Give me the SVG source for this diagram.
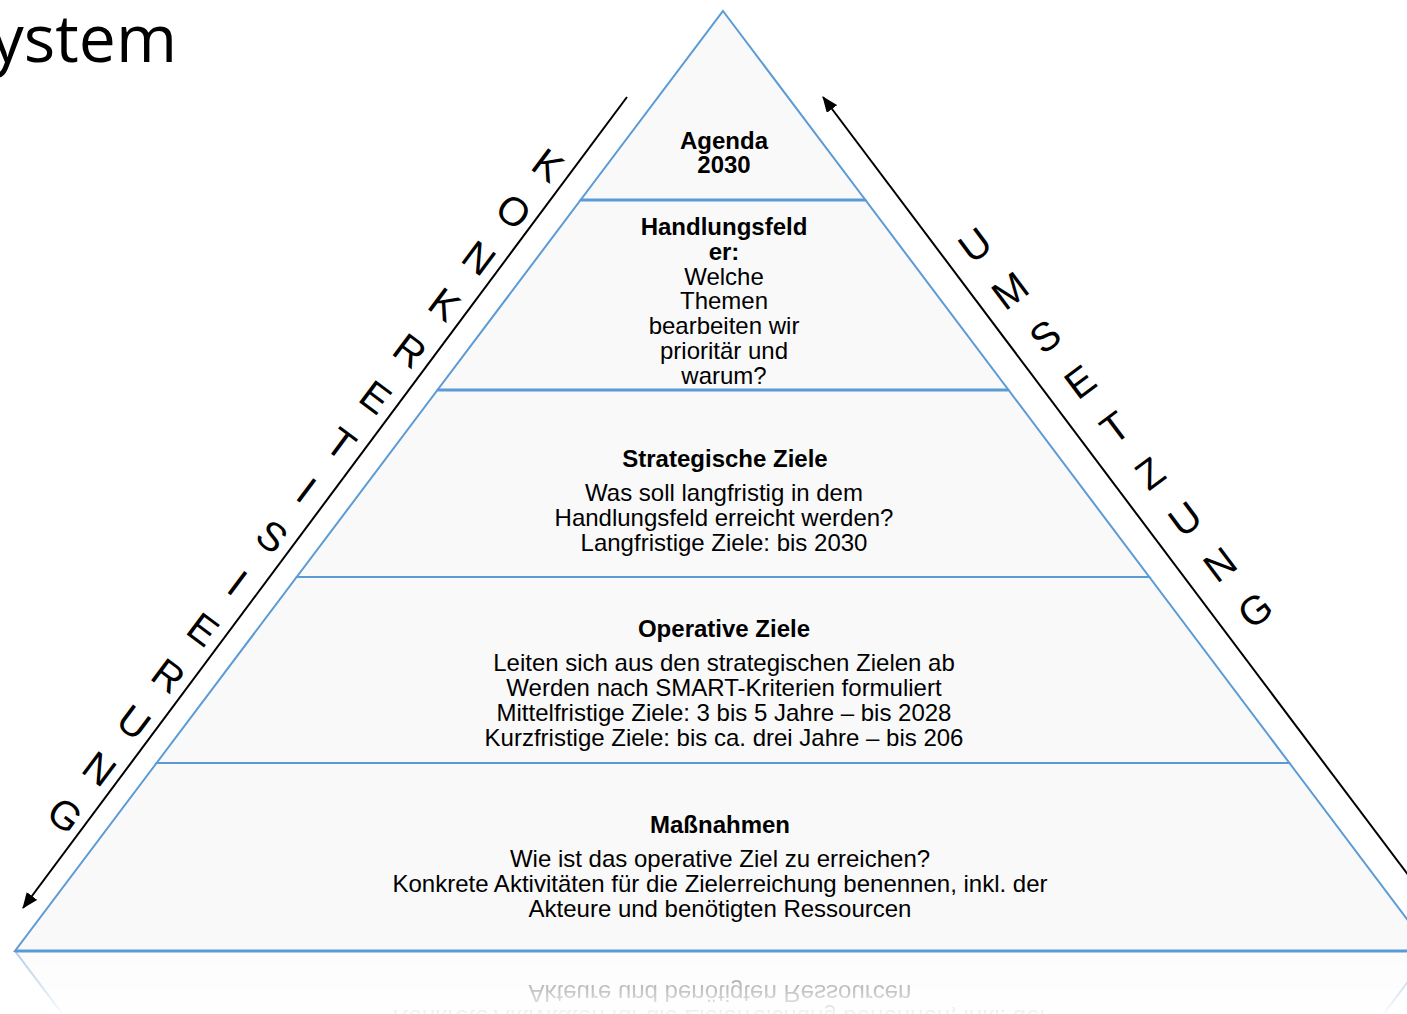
<svg xmlns="http://www.w3.org/2000/svg" width="1407" height="1014" viewBox="0 0 1407 1014">
  <style>
    .layer { fill: #f9f9f9; stroke: #5b9bd5; stroke-width: 2; stroke-linejoin: miter; }
    .sep { stroke: #5b9bd5; stroke-width: 3; }
    .t { font-family: "Liberation Sans", Arial, sans-serif; font-size: 24px; fill: #000; text-anchor: middle; }
    .b { font-weight: bold; }
    .big { font-family: "Liberation Sans", Arial, sans-serif; font-size: 40px; fill: #000; text-anchor: middle; }
    .arrow { stroke: #000; stroke-width: 2; fill: none; }
    .title { font-family: "Open Sans", "Noto Sans", sans-serif; font-size: 66px; fill: #000; }
  </style>
  <defs>
    <marker id="ah" markerUnits="userSpaceOnUse" markerWidth="16" markerHeight="13" viewBox="0 0 16 13" refX="15" refY="6.5" orient="auto">
      <path d="M0,0 L16,6.5 L0,13 z" fill="#000"/>
    </marker>
    <linearGradient id="fadeGrad" gradientUnits="userSpaceOnUse" x1="0" y1="951" x2="0" y2="1014">
      <stop offset="0" stop-color="#fff" stop-opacity="0.5"/>
      <stop offset="0.6" stop-color="#fff" stop-opacity="0.25"/>
      <stop offset="1" stop-color="#fff" stop-opacity="0.04"/>
    </linearGradient>
    <mask id="fade" maskUnits="userSpaceOnUse" x="0" y="952" width="1407" height="70">
      <rect x="0" y="952" width="1407" height="70" fill="url(#fadeGrad)"/>
    </mask>
  </defs>

  <rect x="0" y="0" width="1407" height="1014" fill="#fff"/>

  <text id="title" class="title" x="177" y="62" text-anchor="end">ystem</text>

  <!-- reflection of the bottom layer -->
  <g id="reflection" mask="url(#fade)">
    <g transform="translate(0,1902) scale(1,-1)">
      <polygon class="layer" points="156.6,763 1289.4,763 1431,951 15,951"/>
      <text class="t" x="720" y="917">Akteure und benötigten Ressourcen</text>
      <text class="t" x="720" y="892">Konkrete Aktivitäten für die Zielerreichung benennen, inkl. der</text>
    </g>
  </g>

  <g id="layer-massnahmen">
    <polygon class="layer" points="156.6,763 1289.4,763 1431,951 15,951"/>
    <line class="sep" x1="15" y1="951" x2="1431" y2="951"/>
    <text class="t b" x="720" y="833">Maßnahmen</text>
    <text class="t" x="720" y="867">Wie ist das operative Ziel zu erreichen?</text>
    <text class="t" x="720" y="892">Konkrete Aktivitäten für die Zielerreichung benennen, inkl. der</text>
    <text class="t" x="720" y="917">Akteure und benötigten Ressourcen</text>
  </g>

  <g id="layer-operativ">
    <polygon class="layer" points="296.7,577 1149.3,577 1289.4,763 156.6,763"/>
    <text class="t b" x="724" y="637">Operative Ziele</text>
    <text class="t" x="724" y="671">Leiten sich aus den strategischen Zielen ab</text>
    <text class="t" x="724" y="696">Werden nach SMART-Kriterien formuliert</text>
    <text class="t" x="724" y="721">Mittelfristige Ziele: 3 bis 5 Jahre – bis 2028</text>
    <text class="t" x="724" y="746">Kurzfristige Ziele: bis ca. drei Jahre – bis 206</text>
  </g>

  <g id="layer-strategisch">
    <polygon class="layer" points="437.5,390 1008.5,390 1149.3,577 296.7,577"/>
    <text class="t b" x="725" y="467">Strategische Ziele</text>
    <text class="t" x="724" y="501">Was soll langfristig in dem</text>
    <text class="t" x="724" y="526">Handlungsfeld erreicht werden?</text>
    <text class="t" x="724" y="551">Langfristige Ziele: bis 2030</text>
  </g>

  <g id="layer-handlungsfelder">
    <polygon class="layer" points="580.6,200 865.4,200 1008.5,390 437.5,390"/>
    <line class="sep" x1="437.5" y1="390" x2="1008.5" y2="390"/>
    <text class="t b" x="724" y="235">Handlungsfeld</text>
    <text class="t b" x="724" y="260">er:</text>
    <text class="t" x="724" y="285">Welche</text>
    <text class="t" x="724" y="309">Themen</text>
    <text class="t" x="724" y="334">bearbeiten wir</text>
    <text class="t" x="724" y="359">prioritär und</text>
    <text class="t" x="724" y="384">warum?</text>
  </g>

  <g id="layer-agenda">
    <polygon class="layer" points="723,11 865.4,200 580.6,200"/>
    <line class="sep" x1="580.6" y1="200" x2="865.4" y2="200"/>
    <text class="t b" x="724" y="149">Agenda</text>
    <text class="t b" x="724" y="173">2030</text>
  </g>

  <g id="connectors">
    <line class="arrow" x1="627" y1="97" x2="23" y2="908" marker-end="url(#ah)"/>
    <line class="arrow" x1="1430" y1="904" x2="823" y2="97" marker-end="url(#ah)"/>
  </g>

  <g id="label-konkretisierung">
    <text class="big" transform="translate(548,165) rotate(36.8)" y="14">K</text>
    <text class="big" transform="translate(513.5,211.4) rotate(36.8)" y="14">O</text>
    <text class="big" transform="translate(479,257.9) rotate(36.8)" y="14">N</text>
    <text class="big" transform="translate(444.5,304.3) rotate(36.8)" y="14">K</text>
    <text class="big" transform="translate(410,350.7) rotate(36.8)" y="14">R</text>
    <text class="big" transform="translate(375.5,397.1) rotate(36.8)" y="14">E</text>
    <text class="big" transform="translate(341,443.6) rotate(36.8)" y="14">T</text>
    <text class="big" transform="translate(306.5,490) rotate(36.8)" y="14">I</text>
    <text class="big" transform="translate(272,536.4) rotate(36.8)" y="14">S</text>
    <text class="big" transform="translate(237.5,582.9) rotate(36.8)" y="14">I</text>
    <text class="big" transform="translate(203,629.3) rotate(36.8)" y="14">E</text>
    <text class="big" transform="translate(168.5,675.7) rotate(36.8)" y="14">R</text>
    <text class="big" transform="translate(134,722.1) rotate(36.8)" y="14">U</text>
    <text class="big" transform="translate(99.5,768.6) rotate(36.8)" y="14">N</text>
    <text class="big" transform="translate(65,815) rotate(36.8)" y="14">G</text>
  </g>

  <g id="label-umsetzung">
    <text class="big" transform="translate(975,245) rotate(-36.8)" y="14">U</text>
    <text class="big" transform="translate(1010,290.6) rotate(-36.8)" y="14">M</text>
    <text class="big" transform="translate(1045,336.3) rotate(-36.8)" y="14">S</text>
    <text class="big" transform="translate(1080,381.9) rotate(-36.8)" y="14">E</text>
    <text class="big" transform="translate(1115,427.5) rotate(-36.8)" y="14">T</text>
    <text class="big" transform="translate(1150,473.1) rotate(-36.8)" y="14">Z</text>
    <text class="big" transform="translate(1185,518.8) rotate(-36.8)" y="14">U</text>
    <text class="big" transform="translate(1220,564.4) rotate(-36.8)" y="14">N</text>
    <text class="big" transform="translate(1255,610) rotate(-36.8)" y="14">G</text>
  </g>
</svg>
